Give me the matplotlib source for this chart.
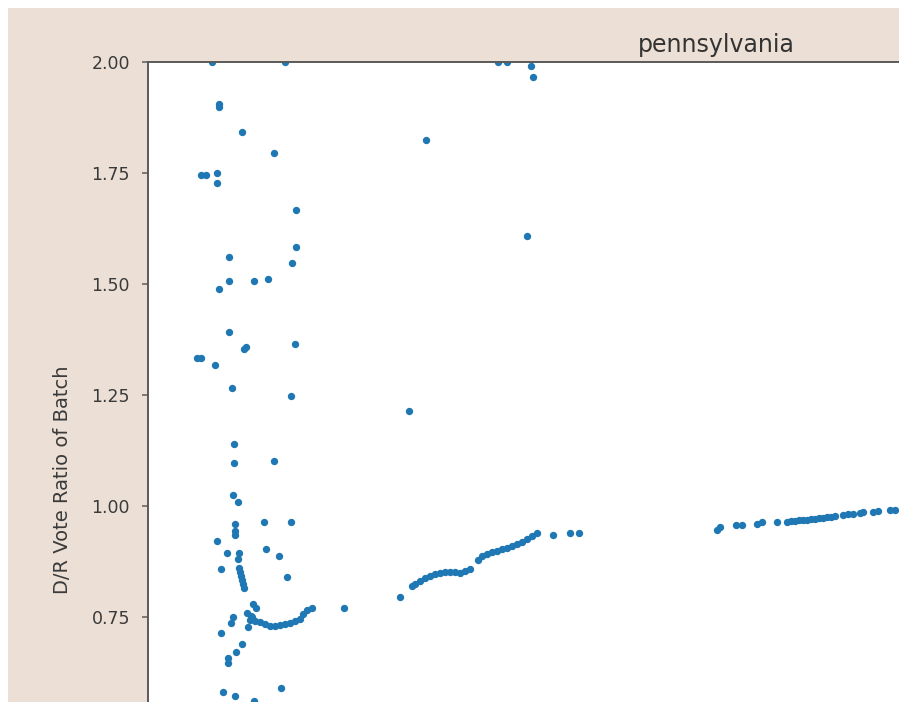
import matplotlib
matplotlib.use('Agg')
import matplotlib.pyplot as plt
from matplotlib.patches import Rectangle

# batch index (arbitrary units) and D/R vote ratio
early_x = [64, 137, 71, 71, 94, 126, 53, 58, 69, 69, 148, 148, 81, 144, 81, 71, 106, 120,
           81, 96, 98, 147, 49, 53, 67, 84, 143, 86, 86, 126, 85, 90, 116, 143, 87, 87, 87,
           69, 79, 118, 131, 91, 90, 73, 91, 92, 93, 94, 95, 96, 139, 105, 99, 102, 104,
           107, 112, 117, 122, 127, 132, 137, 142, 147, 152, 155, 159, 164, 100, 196, 85,
           83, 73, 94, 88, 80, 80, 75, 87, 106, 133, 108, 103]
early_y = [2.0, 2.0, 1.905, 1.899, 1.842, 1.795, 1.745, 1.745, 1.750, 1.727, 1.667, 1.583,
           1.561, 1.547, 1.507, 1.489, 1.507, 1.511, 1.392, 1.354, 1.358, 1.365, 1.333,
           1.333, 1.318, 1.266, 1.248, 1.140, 1.097, 1.101, 1.025, 1.009, 0.964, 0.964,
           0.959, 0.944, 0.935, 0.921, 0.894, 0.903, 0.887, 0.894, 0.881, 0.858, 0.860,
           0.851, 0.842, 0.833, 0.824, 0.815, 0.840, 0.779, 0.759, 0.743, 0.750, 0.741,
           0.739, 0.734, 0.730, 0.730, 0.732, 0.734, 0.736, 0.741, 0.745, 0.757, 0.766,
           0.770, 0.727, 0.770, 0.750, 0.736, 0.714, 0.689, 0.671, 0.658, 0.646, 0.581,
           0.572, 0.561, 0.590, 0.770, 0.752]

mid_x = [278, 379, 383, 385, 359, 350, 261, 252, 264, 267, 272, 277, 282, 287, 292, 297,
         302, 307, 312, 317, 322, 330, 334, 339, 344, 349, 354, 359, 364, 369, 374, 379,
         384, 389, 405, 422, 431]
mid_y = [1.824, 1.608, 1.991, 1.966, 2.0, 2.0, 1.214, 0.795, 0.820, 0.824, 0.831, 0.838,
         0.842, 0.847, 0.849, 0.851, 0.851, 0.851, 0.849, 0.854, 0.858, 0.878, 0.887,
         0.892, 0.896, 0.899, 0.903, 0.905, 0.910, 0.914, 0.919, 0.926, 0.932, 0.939,
         0.935, 0.939, 0.939]

late_x = [569, 572, 588, 594, 609, 614, 629, 639, 643, 647, 651, 655, 659, 663, 667, 671,
          675, 679, 683, 687, 695, 700, 705, 712, 715, 725, 730, 742, 747]
late_y = [0.946, 0.953, 0.957, 0.957, 0.959, 0.964, 0.964, 0.964, 0.966, 0.966, 0.968,
          0.968, 0.968, 0.971, 0.971, 0.973, 0.973, 0.975, 0.975, 0.977, 0.980, 0.982,
          0.982, 0.984, 0.986, 0.986, 0.989, 0.991, 0.991]

yticks = [0.75, 1.00, 1.25, 1.50, 1.75, 2.00]

W, H = 899, 702
fig = plt.figure(figsize=(W / 100, H / 100), dpi=100, facecolor='white')
# beige figure background (screenshot has a thin white border top/left)
fig.patches.append(Rectangle((8 / W, 0), 1, 1 - 8 / H, transform=fig.transFigure,
                             facecolor='#ecdfd5', edgecolor='none', zorder=-10))

ymin, ymax = 0.12, 2.0
px_per_unit = 444
ax_h = (ymax - ymin) * px_per_unit
ax = fig.add_axes([148 / W, 1 - (62 + ax_h) / H, 1136 / W, ax_h / H])
ax.set_facecolor('white')

ax.scatter(early_x, early_y, s=28, color='#1f77b4', linewidths=0)
ax.scatter(mid_x, mid_y, s=28, color='#1f77b4', linewidths=0)
ax.scatter(late_x, late_y, s=28, color='#1f77b4', linewidths=0)

ax.set_xlim(0, 1136)
ax.set_ylim(ymin, ymax)
ax.set_yticks(yticks)
ax.set_yticklabels(['%.2f' % t for t in yticks])
ax.set_xticks([])
ax.tick_params(axis='y', labelsize=12.5, labelcolor='#3a3a3a', color='#5a5a5a',
               length=4, width=1.1, pad=9)
for s in ax.spines.values():
    s.set_color('#5a5a5a')
    s.set_linewidth(1.4)

ax.set_title('pennsylvania', fontsize=17, color='#333333', pad=7)
ax.set_ylabel('D/R Vote Ratio of Batch', fontsize=14, color='#3a3a3a', labelpad=14)

fig.savefig('out.png', dpi=100, facecolor=fig.get_facecolor())
